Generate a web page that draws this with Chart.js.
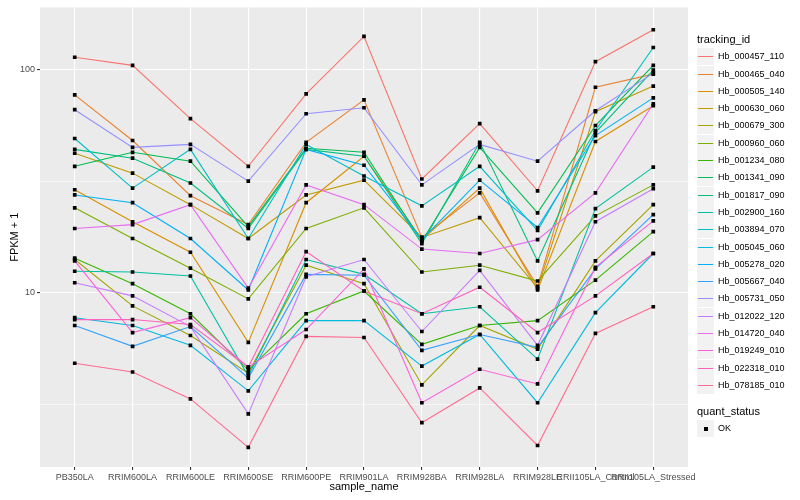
<!DOCTYPE html>
<html lang="en">
<head>
<meta charset="utf-8">
<title>FPKM by sample</title>
<script src="https://cdn.jsdelivr.net/npm/chart.js@4.4.0/dist/chart.umd.min.js"></script>
<style>
    body { margin: 0; background: #ffffff; font-family: "Liberation Sans", Arial, sans-serif; }
    #wrap { position: relative; width: 800px; height: 500px; }
    .lg-title { position: absolute; left: 697px; font-size: 11px; color: #000; white-space: nowrap; }
    .lg-key { position: absolute; left: 697px; width: 17px; height: 17px; background: #F2F2F2; }
    .lg-line { position: absolute; left: 1px; right: 1px; top: 8px; height: 1px; }
    .lg-pt { position: absolute; left: 7px; top: 7px; width: 4px; height: 4px; background: #000; }
    .lg-text { position: absolute; left: 718px; font-size: 9px; color: #000; white-space: nowrap; line-height: 17px; }
</style>
</head>
<body>
<div id="wrap">
    <canvas id="myChart" width="800" height="500"></canvas>
</div>
<script>
var samples = ["PB350LA", "RRIM600LA", "RRIM600LE", "RRIM600SE", "RRIM600PE", "RRIM901LA",
    "RRIM928BA", "RRIM928LA", "RRIM928LE", "RRII105LA_Control", "RRII105LA_Stressed"];

var trackingIds = ["Hb_000457_110", "Hb_000465_040", "Hb_000505_140", "Hb_000630_060", "Hb_000679_300",
    "Hb_000960_060", "Hb_001234_080", "Hb_001341_090", "Hb_001817_090", "Hb_002900_160",
    "Hb_003894_070", "Hb_005045_060", "Hb_005278_020", "Hb_005667_040", "Hb_005731_050",
    "Hb_012022_120", "Hb_014720_040", "Hb_019249_010", "Hb_022318_010", "Hb_078185_010"];

var seriesColors = ["#F8766D", "#EA8331", "#D89000", "#C09B00", "#A3A500", "#7CAE00", "#39B600",
    "#00BB4E", "#00BF7D", "#00C1A3", "#00BFC4", "#00BAE0", "#00B0F6", "#35A2FF", "#9590FF",
    "#C77CFF", "#E76BF3", "#FA62DB", "#FF62BC", "#FF6C91"];

// FPKM + 1, one value per sample
var hb_000457_110 = [113, 104, 60.1, 36.8, 77.5, 140, 32.3, 57.1, 28.6, 108, 150];
var hb_000465_040 = [76.7, 48, 27.2, 20.2, 47.1, 72.9, 17.7, 28, 10.7, 83, 95];
var hb_000505_140 = [28.9, 20.8, 15.2, 6.01, 25.3, 40.8, 17.3, 29.4, 10.3, 47.5, 68.6];
var hb_000630_060 = [42.1, 34.3, 24.8, 17.5, 27.4, 31.9, 17.7, 21.7, 10.5, 64.5, 84];
var hb_000679_300 = [14.1, 8.75, 6.45, 4.38, 13.3, 11, 3.88, 7.15, 5.6, 13.9, 24.8];
var hb_000960_060 = [24, 17.5, 12.9, 9.4, 19.4, 24, 12.4, 13.3, 11.3, 22.1, 30.4];
var hb_001234_080 = [14.3, 11, 8.07, 4.52, 8.07, 10.2, 5.89, 7.15, 7.52, 11.4, 18.8];
var hb_001341_090 = [36.8, 42.5, 38.8, 19.8, 44.3, 42.5, 17, 44.7, 22.8, 56, 104];
var hb_001817_090 = [43.8, 40, 31, 19.4, 43.8, 40.8, 16.6, 47.1, 13.9, 52.1, 99];
var hb_002900_160 = [12.5, 12.4, 11.9, 4.25, 14.1, 12.1, 8.07, 8.67, 5.06, 23.8, 36.5];
var hb_003894_070 = [49, 29.4, 43.8, 17.5, 46.1, 33.3, 24.5, 36.8, 19, 53.2, 125];
var hb_005045_060 = [7.75, 7.15, 5.83, 3.65, 7.52, 7.52, 4.71, 6.52, 3.23, 8.16, 15];
var hb_005278_020 = [27.4, 25.3, 17.5, 10.3, 43.8, 37.2, 17.3, 31.9, 19.6, 50.5, 74.4];
var hb_005667_040 = [7.15, 5.77, 7.07, 4.16, 12.1, 12, 5.54, 6.52, 5.71, 12.8, 22.4];
var hb_005731_050 = [65.9, 44.7, 46.1, 31.6, 63.2, 67.2, 30.4, 46.1, 38.8, 65.2, 96];
var hb_012022_120 = [11.1, 9.7, 7.07, 2.88, 11.8, 14.1, 6.72, 12.6, 5.83, 20.8, 29.2];
var hb_014720_040 = [19.4, 20.2, 24.8, 10.5, 30.4, 24.8, 15.7, 15, 17.3, 28, 70];
var hb_019249_010 = [13.9, 6.65, 7.75, 4.66, 6.86, 12.8, 3.23, 4.56, 3.92, 13, 21];
var hb_022318_010 = [7.6, 7.6, 7.22, 4.66, 15.3, 10.2, 8.07, 10.6, 6.65, 9.7, 15];
var hb_078185_010 = [4.85, 4.43, 3.36, 2.04, 6.39, 6.32, 2.63, 3.76, 2.08, 6.59, 8.67];

var seriesValues = [hb_000457_110, hb_000465_040, hb_000505_140, hb_000630_060, hb_000679_300,
    hb_000960_060, hb_001234_080, hb_001341_090, hb_001817_090, hb_002900_160,
    hb_003894_070, hb_005045_060, hb_005278_020, hb_005667_040, hb_005731_050,
    hb_012022_120, hb_014720_040, hb_019249_010, hb_022318_010, hb_078185_010];

var yLabelTicks = [10, 100];
var yMinorBreaks = [3.162, 31.62];
var yRange = [1.667, 188.8];

var FONT = "'Liberation Sans', Arial, sans-serif";

function toPoints(values) {
    return values.map((v, i) => ({x: i, y: v}));
}

var datasets = [];
seriesValues.forEach((values, i) => {
    datasets.push({
        label: trackingIds[i],
        data: toPoints(values),
        borderColor: seriesColors[i],
        backgroundColor: seriesColors[i],
        borderWidth: 1.1,
        pointRadius: 0,
        fill: false,
        tension: 0,
        order: seriesValues.length - i
    });
});

// quant_status = OK for every point, drawn on top of all lines
var allPoints = [];
seriesValues.forEach((values) => { allPoints = allPoints.concat(toPoints(values)); });
datasets.push({
    label: "OK",
    data: allPoints,
    showLine: false,
    pointStyle: "rect",
    pointRadius: 2.6,
    pointBorderWidth: 0,
    pointBackgroundColor: "#000000",
    borderColor: "#000000",
    order: 0
});

var panelBackground = {
    id: "panelBackground",
    beforeDraw(chart) {
        var a = chart.chartArea;
        chart.ctx.save();
        chart.ctx.fillStyle = "#EBEBEB";
        chart.ctx.fillRect(a.left, a.top, a.right - a.left, a.bottom - a.top);
        chart.ctx.restore();
    }
};

function isMajor(v) {
    return yLabelTicks.some(t => Math.abs(t - v) < 1e-6);
}

var ctx = document.getElementById("myChart").getContext("2d");
var myChart = new Chart(ctx, {
    type: "line",
    data: { datasets: datasets },
    plugins: [panelBackground],
    options: {
        responsive: false,
        animation: false,
        devicePixelRatio: 1,
        layout: { padding: { left: 0, right: 112, top: 5, bottom: 0 } },
        plugins: { legend: { display: false }, tooltip: { enabled: false } },
        scales: {
            x: {
                type: "linear",
                min: -0.6,
                max: 10.6,
                afterBuildTicks: (scale) => { scale.ticks = samples.map((s, i) => ({value: i})); },
                afterFit: (scale) => { scale.height = 33; },
                border: { display: false },
                grid: { color: "#FFFFFF", lineWidth: 1.1, tickLength: 3, tickColor: "#333333" },
                ticks: {
                    autoSkip: false, maxRotation: 0, minRotation: 0, padding: 2,
                    color: "#4D4D4D", font: { family: FONT, size: 9 },
                    callback: (v) => samples[v]
                },
                title: {
                    display: true, text: "sample_name", color: "#000000",
                    font: { family: FONT, size: 11 }, padding: { top: 0, bottom: 6 }
                }
            },
            y: {
                type: "logarithmic",
                min: yRange[0],
                max: yRange[1],
                afterBuildTicks: (scale) => {
                    scale.ticks = yMinorBreaks.concat(yLabelTicks).sort((a, b) => a - b).map(v => ({value: v}));
                },
                afterFit: (scale) => { scale.width = 40; },
                border: { display: false },
                grid: {
                    color: "#FFFFFF",
                    lineWidth: (c) => isMajor(c.tick.value) ? 1.1 : 0.55,
                    tickLength: 3,
                    tickColor: (c) => isMajor(c.tick.value) ? "#333333" : "rgba(0,0,0,0)"
                },
                ticks: {
                    padding: 2, color: "#4D4D4D", font: { family: FONT, size: 9 },
                    callback: (v) => isMajor(v) ? String(v) : ""
                },
                title: {
                    display: true, text: "FPKM + 1", color: "#000000",
                    font: { family: FONT, size: 11 }, padding: { top: 8, bottom: 0 }
                }
            }
        }
    }
});

// ggplot-like legends on the right
var wrap = document.getElementById("wrap");
function addEl(cls, top, html) {
    var el = document.createElement("div");
    el.className = cls;
    el.style.top = top + "px";
    if (html) el.innerHTML = html;
    wrap.appendChild(el);
    return el;
}
addEl("lg-title", 33, "tracking_id");
trackingIds.forEach((id, i) => {
    var top = 48.2 + 17.3 * i;
    var key = addEl("lg-key", top);
    var line = document.createElement("div");
    line.className = "lg-line";
    line.style.background = seriesColors[i];
    key.appendChild(line);
    addEl("lg-text", top, id);
});
addEl("lg-title", 405, "quant_status");
var okKey = addEl("lg-key", 420);
var pt = document.createElement("div");
pt.className = "lg-pt";
okKey.appendChild(pt);
addEl("lg-text", 420, "OK");
</script>
</body>
</html>
